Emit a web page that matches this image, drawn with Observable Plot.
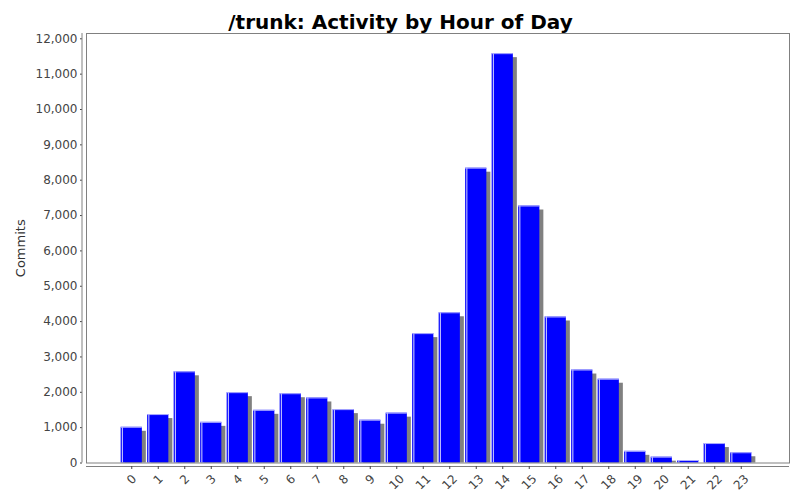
<!DOCTYPE html>
<html>
<head>
<meta charset="utf-8">
<script src="https://cdn.jsdelivr.net/npm/d3@7"></script>
<script src="https://cdn.jsdelivr.net/npm/@observablehq/plot@0.6"></script>
<style>
  html, body { margin: 0; padding: 0; background: #fff; }
  #chart { width: 800px; height: 500px; position: relative; }
  svg { font-family: "DejaVu Sans", sans-serif; }
</style>
</head>
<body>
<div id="chart"></div>
<script>
const title = "/trunk: Activity by Hour of Day";
const yLabel = "Commits";
const hours = ["0","1","2","3","4","5","6","7","8","9","10","11","12","13","14","15","16","17","18","19","20","21","22","23"];
const commits = [1010, 1370, 2580, 1150, 1990, 1490, 1960, 1840, 1510, 1210, 1410, 3660, 4250, 8340, 11580, 7270, 4130, 2630, 2370, 330, 165, 70, 550, 290];
const yTicks = [0, 1000, 2000, 3000, 4000, 5000, 6000, 7000, 8000, 9000, 10000, 11000, 12000];

const data = hours.map((h, i) => ({hour: h, value: commits[i]}));
const shortLabels = hours.filter(h => h.length === 1);
const longLabels = hours.filter(h => h.length > 1);

const W = 800, H = 500;
const mL = 86, mR = 11, mT = 33, mB = 37.5;

const plot = Plot.plot({
  width: W,
  height: H,
  marginLeft: mL,
  marginRight: mR,
  marginTop: mT,
  marginBottom: mB,
  style: {fontFamily: "DejaVu Sans, sans-serif", background: "#fff", overflow: "visible"},
  x: {domain: hours, range: [118, 754], paddingInner: 0.2, paddingOuter: 0.1, round: false, label: null},
  y: {domain: [0, 12150], range: [H - mB, mT], label: null},
  marks: [
    // shadow
    Plot.barY(data, {x: "hour", y: "value", fill: "#808080", dx: 4, dy: 4, insetBottom: 4}),
    // main bar
    Plot.barY(data, {x: "hour", y: "value", fill: "#0000ff"}),
    // left highlight stripe
    Plot.barY(data, {x: "hour", y: "value", fill: "#ffffff", fillOpacity: 0.85, insetLeft: 1.2, insetRight: 19}),
    // top light edge
    Plot.tickY(data, {x: "hour", y: "value", stroke: "#b0b0ff", strokeWidth: 1}),
    Plot.frame({stroke: "#808080"}),
    Plot.ruleY([0], {stroke: "#808080", dy: 3.5}),
    Plot.axisY({ticks: yTicks, tickFormat: d3.format(","), tickSize: 2, dx: -4, tickPadding: 3, fontSize: 12, color: "#444", label: null}),
    Plot.axisX({tickSize: 3, dy: 3.5, tickFormat: () => "", label: null, color: "#444"}),
    Plot.text(shortLabels, {x: d => d, frameAnchor: "bottom", dy: 16.5, rotate: -45, textAnchor: "middle", lineAnchor: "middle", fontSize: 12, fill: "#444"}),
    Plot.text(longLabels, {x: d => d, frameAnchor: "bottom", dy: 19.2, rotate: -45, textAnchor: "middle", lineAnchor: "middle", fontSize: 12, fill: "#444"}),
    Plot.text([yLabel], {frameAnchor: "left", dx: -66, rotate: -90, textAnchor: "middle", fontSize: 13, fill: "#333"}),
    Plot.text([title], {frameAnchor: "top", dx: -37.5, dy: -19, textAnchor: "middle", fontSize: 20, fontWeight: "bold", fill: "#000"})
  ]
});

// y axis line offset to the left of the plot frame
const svg = d3.select(plot);
svg.append("line")
  .attr("x1", mL - 4).attr("x2", mL - 4)
  .attr("y1", mT).attr("y2", H - mB)
  .attr("stroke", "#808080");

document.getElementById("chart").appendChild(plot);
</script>
</body>
</html>
